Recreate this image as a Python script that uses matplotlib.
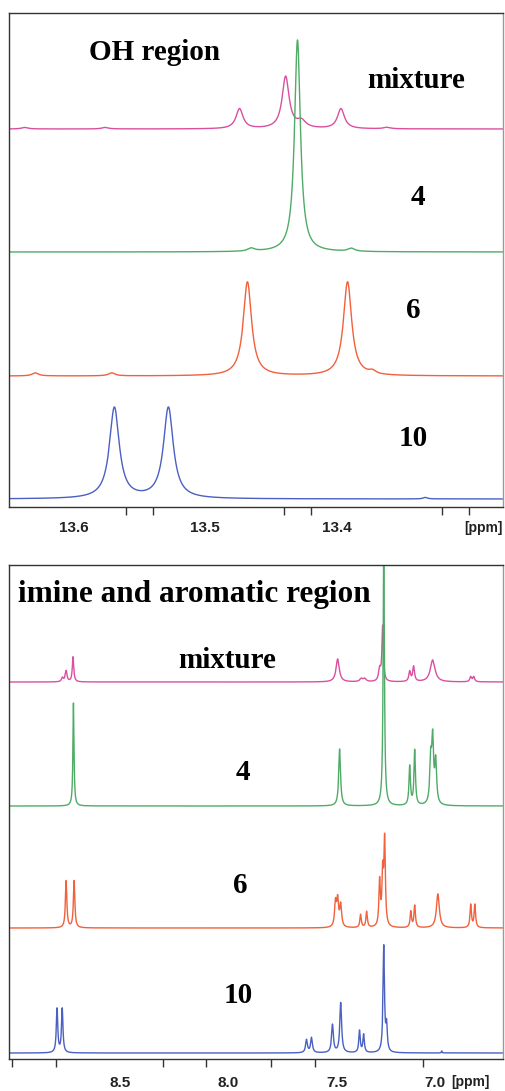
import numpy as np
import matplotlib
matplotlib.use("Agg")
import matplotlib.pyplot as plt

W, H = 506, 1091
SERIF = ["Liberation Serif", "DejaVu Serif"]
SANS = ["Liberation Sans", "DejaVu Sans"]

# ---------------- data: OH region (ppm, height, half-width) ----------------
oh_mix_pos = [13.637, 13.576, 13.474, 13.439, 13.427, 13.397, 13.362]
oh_mix_h = [1.5, 1.5, 20, 52, 7, 20, 1.5]
oh_mix_w = [0.003, 0.003, 0.0032, 0.0032, 0.004, 0.0032, 0.003]

oh_4_pos = [13.465, 13.430, 13.389]
oh_4_h = [3, 212, 3]
oh_4_w = [0.003, 0.0027, 0.003]

oh_6_pos = [13.629, 13.571, 13.468, 13.392, 13.373]
oh_6_h = [3, 3, 94, 94, 3]
oh_6_w = [0.003, 0.003, 0.0038, 0.0038, 0.003]

oh_10_pos = [13.569, 13.528, 13.333]
oh_10_h = [91, 91, 1.5]
oh_10_w = [0.0045, 0.0045, 0.002]

# ---------------- data: imine and aromatic region ----------------
ar_mix_pos = [8.767, 8.750, 8.718, 7.495, 7.386, 7.370, 7.301, 7.287, 7.162, 7.144, 7.056, 6.880, 6.866]
ar_mix_h = [4, 11, 25, 23, 3, 3, 12, 55, 10, 15, 22, 5, 5]
ar_mix_w = [0.005, 0.005, 0.004, 0.009, 0.008, 0.008, 0.006, 0.004, 0.005, 0.005, 0.013, 0.005, 0.005]

ar_4_pos = [8.716, 7.486, 7.282, 7.162, 7.139, 7.065, 7.056, 7.042]
ar_4_h = [103, 57, 265, 39, 55, 42, 62, 42]
ar_4_w = [0.003, 0.005, 0.0035, 0.004, 0.004, 0.005, 0.005, 0.005]

ar_6_pos = [8.750, 8.713, 7.505, 7.495, 7.481, 7.389, 7.361, 7.301, 7.287, 7.278, 7.157, 7.139, 7.032, 6.880, 6.861]
ar_6_h = [47, 47, 24, 26, 22, 13, 16, 45, 50, 85, 16, 22, 34, 23, 23]
ar_6_w = [0.004, 0.004, 0.005, 0.005, 0.005, 0.004, 0.004, 0.004, 0.004, 0.004, 0.004, 0.004, 0.008, 0.004, 0.004]

ar_10_pos = [8.792, 8.768, 7.639, 7.616, 7.519, 7.481, 7.394, 7.375, 7.282, 7.269, 7.014]
ar_10_h = [44, 44, 13, 15, 28, 50, 22, 18, 106, 25, 2]
ar_10_w = [0.004, 0.004, 0.005, 0.005, 0.005, 0.005, 0.004, 0.004, 0.004, 0.004, 0.002]

oh_offsets = [378, 255, 131, 8]
ar_offsets = [377, 253, 131, 6]
labels = ["mixture", "4", "6", "10"]
colors = ["#d9509f", "#4fab67", "#f2603c", "#4a60c2"]

oh_xlim = (13.649, 13.274)
ar_xlim = (9.014, 6.731)

oh_tick_marks = [13.560, 13.540, 13.440, 13.420, 13.320, 13.300]
oh_tick_label_pos = [13.6, 13.5, 13.4]
oh_tick_labels = ["13.6", "13.5", "13.4"]

ar_tick_marks = [9.0, 8.796, 8.5, 8.301, 8.102, 8.0, 7.801, 7.602, 7.102]
ar_tick_label_pos = [8.5, 8.0, 7.5, 7.045]
ar_tick_labels = ["8.5", "8.0", "7.5", "7.0"]


def spectrum(x, pos, h, w):
    y = np.zeros_like(x)
    for p, a, g in zip(pos, h, w):
        y += a * g**2 / ((x - p) ** 2 + g**2)
    return y


fig = plt.figure(figsize=(W / 100, H / 100), dpi=100)


def make_ax(top_px, bottom_px):
    left, right = 9, 503
    return fig.add_axes([left / W, 1 - bottom_px / H, (right - left) / W, (bottom_px - top_px) / H])


def style_ax(ax, xlim, marks, lab_pos, labs, pad):
    ax.set_xlim(*xlim)
    ax.set_ylim(0, 494)
    ax.set_yticks([])
    for s in ax.spines.values():
        s.set_color("#333333")
        s.set_linewidth(1.0)
    ax.spines["right"].set_color("#9a9a9a")
    ax.set_xticks(lab_pos)
    ax.set_xticklabels(labs, fontfamily=SANS, fontweight="bold", fontsize=11)
    ax.tick_params(axis="x", which="major", length=0, pad=pad, colors="#222222")
    ax.set_xticks(marks, minor=True)
    ax.tick_params(axis="x", which="minor", length=6, width=1.0, color="#333333", direction="out")


# ---------------- top panel ----------------
ax1 = make_ax(13, 507)
x1 = np.linspace(oh_xlim[1], oh_xlim[0], 8000)
oh_sets = [(oh_mix_pos, oh_mix_h, oh_mix_w), (oh_4_pos, oh_4_h, oh_4_w),
           (oh_6_pos, oh_6_h, oh_6_w), (oh_10_pos, oh_10_h, oh_10_w)]
for (p, h, w), off, c in zip(oh_sets, oh_offsets, colors):
    ax1.plot(x1, off + spectrum(x1, p, h, w), color=c, lw=1.0, clip_on=True)
style_ax(ax1, oh_xlim, oh_tick_marks, oh_tick_label_pos, oh_tick_labels, 10)
ax1.text(1.0, -0.043, "[ppm]", transform=ax1.transAxes, ha="right", va="center",
         fontfamily=SANS, fontweight="bold", fontsize=10, color="#222222")

tf = dict(fontfamily=SERIF, fontweight="bold", fontsize=21, va="baseline")
ax1.text(0.162, 0.905, "OH region", transform=ax1.transAxes, ha="left", **tf)
ax1.text(0.824, 0.848, labels[0], transform=ax1.transAxes, ha="center", **tf)
ax1.text(0.828, 0.611, labels[1], transform=ax1.transAxes, ha="center", **tf)
ax1.text(0.818, 0.383, labels[2], transform=ax1.transAxes, ha="center", **tf)
ax1.text(0.818, 0.123, labels[3], transform=ax1.transAxes, ha="center", **tf)

# ---------------- bottom panel ----------------
ax2 = make_ax(565, 1059)
x2 = np.linspace(ar_xlim[1], ar_xlim[0], 12000)
ar_sets = [(ar_mix_pos, ar_mix_h, ar_mix_w), (ar_4_pos, ar_4_h, ar_4_w),
           (ar_6_pos, ar_6_h, ar_6_w), (ar_10_pos, ar_10_h, ar_10_w)]
for (p, h, w), off, c in zip(ar_sets, ar_offsets, colors):
    ax2.plot(x2, off + spectrum(x2, p, h, w), color=c, lw=1.0, clip_on=True)
style_ax(ax2, ar_xlim, ar_tick_marks, ar_tick_label_pos, ar_tick_labels, 12)
ax2.text(0.895, -0.047, "[ppm]", transform=ax2.transAxes, ha="left", va="center",
         fontfamily=SANS, fontweight="bold", fontsize=10, color="#222222")

ax2.text(0.018, 0.925, "imine and aromatic region", transform=ax2.transAxes, ha="left",
         **{**tf, "fontsize": 22.5})
ax2.text(0.441, 0.791, labels[0], transform=ax2.transAxes, ha="center", **tf)
ax2.text(0.474, 0.565, labels[1], transform=ax2.transAxes, ha="center", **tf)
ax2.text(0.468, 0.336, labels[2], transform=ax2.transAxes, ha="center", **tf)
ax2.text(0.464, 0.113, labels[3], transform=ax2.transAxes, ha="center", **tf)

fig.savefig("out.png", dpi=100)
